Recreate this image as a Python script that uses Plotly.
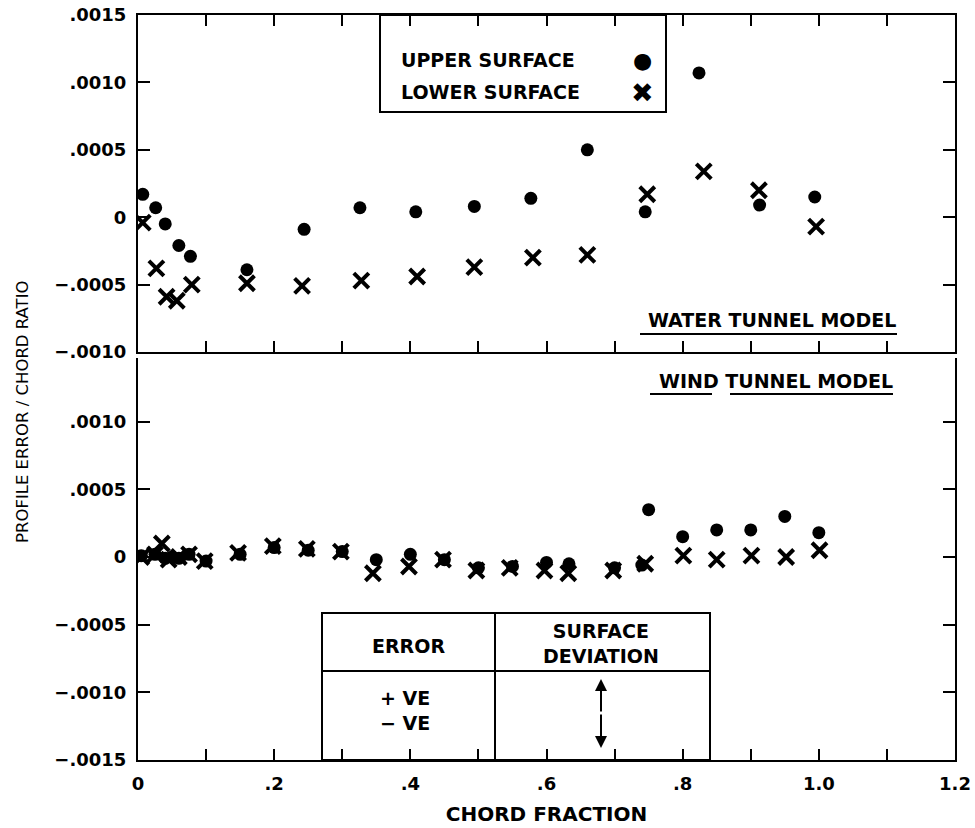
import plotly.graph_objects as go

# ---------------- data ----------------
# Water tunnel model (top panel)
water_upper_x = [0.007, 0.026, 0.040, 0.060, 0.077, 0.160, 0.244, 0.326, 0.408, 0.494, 0.577, 0.660, 0.745, 0.824, 0.913, 0.994]
water_upper_y = [0.00017, 0.00007, -0.00005, -0.00021, -0.00029, -0.00039, -0.00009, 0.00007, 0.00004, 0.00008, 0.00014, 0.00050, 0.00004, 0.00107, 0.00009, 0.00015]
water_lower_x = [0.007, 0.027, 0.042, 0.057, 0.079, 0.160, 0.241, 0.328, 0.410, 0.494, 0.580, 0.660, 0.748, 0.831, 0.912, 0.996]
water_lower_y = [-0.00004, -0.00038, -0.00059, -0.00062, -0.00050, -0.00049, -0.00051, -0.00047, -0.00044, -0.00037, -0.00030, -0.00028, 0.00017, 0.00034, 0.00020, -0.00007]

# Wind tunnel model (bottom panel)
wind_upper_x = [0.005, 0.025, 0.040, 0.050, 0.060, 0.075, 0.100, 0.150, 0.200, 0.250, 0.300, 0.350, 0.400, 0.450, 0.500, 0.550, 0.600, 0.633, 0.700, 0.740, 0.750, 0.800, 0.850, 0.900, 0.950, 1.000]
wind_upper_y = [0.00001, 0.00002, -0.00001, 0.0, -0.00001, 0.00002, -0.00003, 0.00002, 0.00007, 0.00005, 0.00004, -0.00002, 0.00002, -0.00002, -0.00008, -0.00007, -0.00004, -0.00005, -0.00008, -0.00006, 0.00035, 0.00015, 0.00020, 0.00020, 0.00030, 0.00018]
wind_lower_x = [0.005, 0.025, 0.035, 0.045, 0.060, 0.075, 0.098, 0.147, 0.198, 0.248, 0.298, 0.345, 0.398, 0.448, 0.497, 0.546, 0.597, 0.632, 0.698, 0.745, 0.801, 0.850, 0.901, 0.952, 1.001]
wind_lower_y = [0.0, 0.00002, 0.00010, -0.00002, 0.0, 0.00002, -0.00003, 0.00003, 0.00008, 0.00006, 0.00004, -0.00012, -0.00007, -0.00002, -0.00010, -0.00008, -0.00010, -0.00012, -0.00010, -0.00005, 0.00001, -0.00002, 0.00001, 0.0, 0.00005]

x_tickvals = [0, 0.2, 0.4, 0.6, 0.8, 1.0, 1.2]
x_ticktext = ["0", ".2", ".4", ".6", ".8", "1.0", "1.2"]
top_y_tickvals = [-0.0010, -0.0005, 0, 0.0005, 0.0010, 0.0015]
top_y_ticktext = ["\u2212.0010", "\u2212.0005", "0", ".0005", ".0010", ".0015"]
bot_y_tickvals = [-0.0015, -0.0010, -0.0005, 0, 0.0005, 0.0010]
bot_y_ticktext = ["\u2212.0015", "\u2212.0010", "\u2212.0005", "0", ".0005", ".0010"]

# ---------------- style ----------------
FONT = "DejaVu Sans"
INK = "black"
W, H = 975, 828
ML, MR, MT, MB = 138, 20, 15, 68
PW, PH = W - ML - MR, H - MT - MB


def px(xp):
    return (xp - ML) / PW


def py(yp):
    return (H - MB - yp) / PH


dot = dict(symbol="circle", size=13, color=INK, line=dict(width=0))
cross = dict(symbol="x-thin-open", size=15, color=INK, line=dict(width=4, color=INK))

fig = go.Figure()
fig.add_trace(go.Scatter(x=water_upper_x, y=water_upper_y, mode="markers", marker=dot, xaxis="x", yaxis="y", name="UPPER SURFACE"))
fig.add_trace(go.Scatter(x=water_lower_x, y=water_lower_y, mode="markers", marker=cross, xaxis="x", yaxis="y", name="LOWER SURFACE"))
fig.add_trace(go.Scatter(x=wind_upper_x, y=wind_upper_y, mode="markers", marker=dot, xaxis="x2", yaxis="y2", name="UPPER SURFACE"))
fig.add_trace(go.Scatter(x=wind_lower_x, y=wind_lower_y, mode="markers", marker=cross, xaxis="x2", yaxis="y2", name="LOWER SURFACE"))

tick_font = dict(family=FONT, size=18, color=INK, weight="bold")
common_x = dict(range=[0, 1.2], showgrid=False, zeroline=False, showline=True, linecolor=INK, linewidth=2,
                ticks="inside", ticklen=11, tickwidth=2, tickcolor=INK, automargin=False,
                tickvals=x_tickvals, ticktext=x_ticktext, tickfont=tick_font, ticklabelstandoff=6,
                minor=dict(dtick=0.1, tick0=0, ticks="inside", ticklen=11, tickwidth=2, tickcolor=INK))
common_y = dict(showgrid=False, zeroline=False, showline=True, linecolor=INK, linewidth=2,
                ticks="inside", ticklen=12, tickwidth=2, tickcolor=INK, tickfont=tick_font, mirror="ticks",
                ticklabelstandoff=6, automargin=False)

top_lo = py(352)
bot_hi = py(358)
bot_top_val = -0.0015 + (760 - 358) * 0.0015 / 203.0

fig.update_layout(
    width=W, height=H,
    margin=dict(l=ML, r=MR, t=MT, b=MB, autoexpand=False),
    paper_bgcolor="white", plot_bgcolor="white",
    showlegend=False,
    xaxis=dict(**common_x, domain=[0, 1], anchor="y", mirror="ticks", showticklabels=False),
    yaxis=dict(**common_y, domain=[top_lo, 1], anchor="x", range=[-0.0010, 0.0015],
               tickvals=top_y_tickvals, ticktext=top_y_ticktext),
    xaxis2=dict(**common_x, domain=[0, 1], anchor="y2",
                title=dict(text="<b>CHORD FRACTION</b>", font=dict(family=FONT, size=20, color=INK), standoff=14)),
    yaxis2=dict(**common_y, domain=[0, bot_hi], anchor="x2", range=[-0.0015, bot_top_val],
                tickvals=bot_y_tickvals, ticktext=bot_y_ticktext),
)

ann = []
shapes = []
txt = dict(family=FONT, size=19, color=INK)

# y axis title
ann.append(dict(text="PROFILE ERROR / CHORD RATIO", xref="paper", yref="paper", x=px(22), y=py(412),
                textangle=-90, showarrow=False, font=dict(family=FONT, size=16.5, color=INK),
                xanchor="center", yanchor="middle"))

# legend box
shapes.append(dict(type="rect", xref="paper", yref="paper", x0=px(380), x1=px(666), y0=py(112), y1=1,
                   line=dict(color=INK, width=2), fillcolor="rgba(0,0,0,0)"))
ann.append(dict(text="<b>UPPER SURFACE</b>", xref="paper", yref="paper", x=px(399), y=py(60),
                xanchor="left", yanchor="middle", showarrow=False, font=txt))
ann.append(dict(text="<b>LOWER SURFACE</b>", xref="paper", yref="paper", x=px(399), y=py(92),
                xanchor="left", yanchor="middle", showarrow=False, font=txt))
ann.append(dict(text="\u25cf", xref="paper", yref="paper", x=px(642), y=py(60),
                xanchor="center", yanchor="middle", showarrow=False, font=dict(family=FONT, size=22, color=INK)))
ann.append(dict(text="\u2716", xref="paper", yref="paper", x=px(642), y=py(92),
                xanchor="center", yanchor="middle", showarrow=False, font=dict(family=FONT, size=27, color=INK)))

# panel labels
ann.append(dict(text="<b>WATER TUNNEL MODEL</b>", xref="paper", yref="paper", x=px(898), y=py(320),
                xanchor="right", yanchor="middle", showarrow=False, font=txt))
shapes.append(dict(type="line", xref="paper", yref="paper", x0=px(640), x1=px(897), y0=py(334), y1=py(334),
                   line=dict(color=INK, width=2)))
ann.append(dict(text="<b>WIND TUNNEL MODEL</b>", xref="paper", yref="paper", x=px(895), y=py(381),
                xanchor="right", yanchor="middle", showarrow=False, font=txt))
shapes.append(dict(type="line", xref="paper", yref="paper", x0=px(650), x1=px(712), y0=py(394), y1=py(394),
                   line=dict(color=INK, width=2)))
shapes.append(dict(type="line", xref="paper", yref="paper", x0=px(730), x1=px(893), y0=py(394), y1=py(394),
                   line=dict(color=INK, width=2)))

# table
shapes.append(dict(type="rect", xref="paper", yref="paper", x0=px(322), x1=px(710), y0=0, y1=py(613),
                   line=dict(color=INK, width=2), fillcolor="rgba(0,0,0,0)"))
shapes.append(dict(type="line", xref="paper", yref="paper", x0=px(495), x1=px(495), y0=0, y1=py(613),
                   line=dict(color=INK, width=2)))
shapes.append(dict(type="line", xref="paper", yref="paper", x0=px(322), x1=px(710), y0=py(671), y1=py(671),
                   line=dict(color=INK, width=2)))
ann.append(dict(text="<b>ERROR</b>", xref="paper", yref="paper", x=px(408), y=py(646),
                xanchor="center", yanchor="middle", showarrow=False, font=txt))
ann.append(dict(text="<b>SURFACE<br>DEVIATION</b>", xref="paper", yref="paper", x=px(601), y=py(643),
                xanchor="center", yanchor="middle", showarrow=False, font=txt))
ann.append(dict(text="<b>+ VE<br>\u2212 VE</b>", xref="paper", yref="paper", x=px(405), y=py(710),
                xanchor="center", yanchor="middle", showarrow=False, font=txt))
# double-headed arrow
ann.append(dict(text="", xref="paper", yref="paper", x=px(601), y=py(679), ax=0, ay=34,
                showarrow=True, arrowhead=2, arrowsize=1.2, arrowwidth=2, arrowcolor=INK))
ann.append(dict(text="", xref="paper", yref="paper", x=px(601), y=py(748), ax=0, ay=-35,
                showarrow=True, arrowhead=2, arrowsize=1.2, arrowwidth=2, arrowcolor=INK))

fig.update_layout(annotations=ann, shapes=shapes)
fig.write_html("out.html")
